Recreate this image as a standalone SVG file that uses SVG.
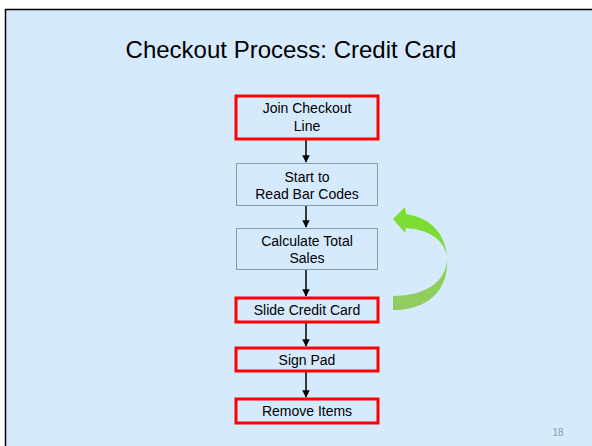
<svg xmlns="http://www.w3.org/2000/svg" width="592" height="446" viewBox="0 0 592 446">
<defs>
<style>
.box{fill:#d6eafd;stroke:#8c9aa6;stroke-width:1}
.red{fill:#d6eafd;stroke:#ff0000;stroke-width:3}
.t{font-family:"Liberation Sans",Arial,sans-serif;font-size:14px;fill:#000;text-anchor:middle}
.c{stroke:#000;stroke-width:1.5;fill:none;marker-end:url(#ah)}
</style>
<marker id="ah" viewBox="0 0 10 10" refX="9" refY="5" markerWidth="5" markerHeight="5" orient="auto" markerUnits="strokeWidth">
<path d="M0,0 L10,5 L0,10 Z" fill="#000"/>
</marker>
<linearGradient id="g" x1="0" y1="0" x2="0" y2="1">
<stop offset="0" stop-color="#78e02a"/>
<stop offset="1" stop-color="#94cb63"/>
</linearGradient>
</defs>
<rect x="0" y="0" width="592" height="446" fill="#ffffff"/>
<rect x="5.5" y="9.5" width="600" height="450" fill="#d6eafd" stroke="#000" stroke-width="1.5"/>
<text x="291" y="58" font-family="'Liberation Sans',Arial,sans-serif" font-size="24" text-anchor="middle" fill="#000">Checkout Process: Credit Card</text>
<g id="connectors">
<line class="c" x1="306" y1="140" x2="306" y2="162"/>
<line class="c" x1="306" y1="206" x2="306" y2="227"/>
<line class="c" x1="306" y1="270" x2="306" y2="296"/>
<line class="c" x1="306" y1="323" x2="306" y2="346"/>
<line class="c" x1="306" y1="372" x2="306" y2="397"/>
</g>
<g id="n1"><rect class="red" x="236" y="96" width="142" height="43"/><text class="t" x="307" y="113">Join Checkout</text><text class="t" x="307" y="131">Line</text></g>
<g id="n2"><rect class="box" x="236.5" y="163.5" width="141" height="42"/><text class="t" x="307" y="182">Start to</text><text class="t" x="307" y="199">Read Bar Codes</text></g>
<g id="n3"><rect class="box" x="236.5" y="228.5" width="141" height="41"/><text class="t" x="307" y="246">Calculate Total</text><text class="t" x="307" y="263">Sales</text></g>
<g id="n4"><rect class="red" x="236" y="298" width="142" height="24"/><text class="t" x="307" y="315">Slide Credit Card</text></g>
<g id="n5"><rect class="red" x="236" y="348" width="142" height="23"/><text class="t" x="307" y="365">Sign Pad</text></g>
<g id="n6"><rect class="red" x="236" y="399" width="142" height="24"/><text class="t" x="307" y="416">Remove Items</text></g>
<g id="loop">
<path d="M393,219 L405,207 L406,214 C428,217 446,232 447,258 C447,282 425,296 393,296 L393,310 C428,310 449,290 447,258 C445,240 430,230 406,228 L405,233 Z" fill="url(#g)"/>
</g>
<text x="558" y="436" font-family="'Liberation Sans',Arial,sans-serif" font-size="10" fill="#999" text-anchor="middle">18</text>
</svg>
